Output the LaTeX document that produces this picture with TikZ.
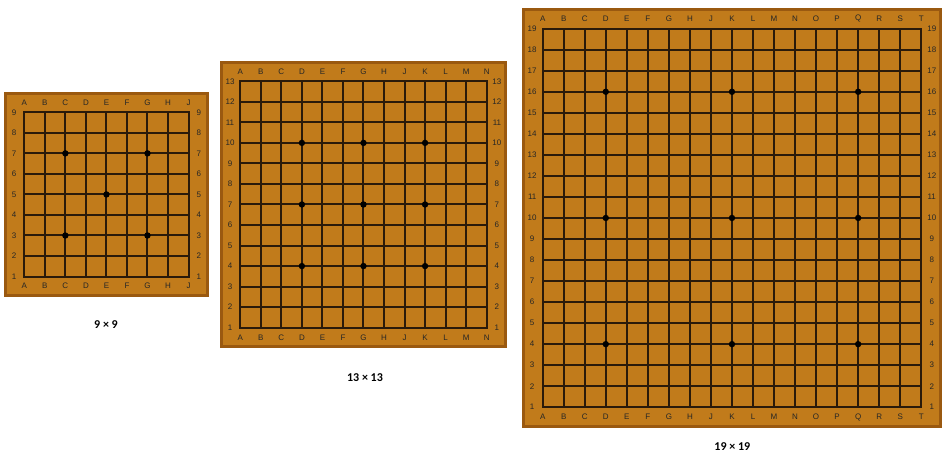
\documentclass[tikz,border=0pt]{standalone}
\usepackage{fontspec}
\setmainfont{Liberation Sans}
\newfontfamily\capfont{Carlito}
\definecolor{boardfill}{HTML}{C17B1B}
\definecolor{boardedge}{HTML}{9A5910}
\definecolor{gridline}{HTML}{2A1A0A}
\tikzset{
  lbl/.style={font=\fontsize{8}{8}\selectfont, text=black!85, inner sep=0pt},
  captext/.style={font=\capfont\bfseries\fontsize{12}{12}\selectfont, text=black, inner sep=0pt},
  gline/.style={draw=gridline, line width=2pt, line cap=rect},
  boardbox/.style={draw=boardedge, line width=3pt, fill=boardfill},
  starpt/.style={fill=black, draw=none}
}
% #1 size n, #2 left x (px), #3 top y (px), #4 spacing, #5 letters, #6 star points (col/row)
\newcommand\goboard[6]{%
  \begin{scope}[shift={(#2,{464-#3})}]
    \pgfmathsetmacro\gL{(#1-1)*#4}
    \pgfmathsetmacro\gm{#4-2}
    \pgfmathtruncatemacro\gnn{#1-1}
    \draw[boardbox] (-\gm,\gm) rectangle (\gL+\gm,-\gL-\gm);
    \foreach \i in {0,...,\gnn}{
      \draw[gline] (\i*#4,0) -- (\i*#4,-\gL);
      \draw[gline] (0,-\i*#4) -- (\gL,-\i*#4);
    }
    \foreach \c [count=\k from 0] in {#5}{
      \node[lbl] at (\k*#4, 0.47*#4) {\c};
      \node[lbl] at (\k*#4, -\gL-0.47*#4) {\c};
    }
    \foreach \r in {1,...,#1}{
      \node[lbl] at (-0.5*#4, {-(#1-\r)*#4}) {\r};
      \node[lbl] at (\gL+0.5*#4, {-(#1-\r)*#4}) {\r};
    }
    \foreach \a/\b in {#6}{
      \fill[starpt] ({(\a-1)*#4}, {-(#1-\b)*#4}) circle (3.2);
    }
  \end{scope}%
}
\begin{document}
\begin{tikzpicture}[x=1pt,y=1pt]
  \useasboundingbox (0,0) rectangle (948,464);
  \goboard{9}{24.3}{112.3}{20.53}{A,B,C,D,E,F,G,H,J}{3/3,7/3,5/5,3/7,7/7}
  \goboard{13}{240.3}{81.3}{20.53}{A,B,C,D,E,F,G,H,J,K,L,M,N}{4/4,7/4,10/4,4/7,7/7,10/7,4/10,7/10,10/10}
  \goboard{19}{542.7}{28.7}{21.03}{A,B,C,D,E,F,G,H,J,K,L,M,N,O,P,Q,R,S,T}{4/4,10/4,16/4,4/10,10/10,16/10,4/16,10/16,16/16}
  \node[captext] (c9) at (106,{464-324.3}) {9 × 9};
  \node[captext] (c13) at (365,{464-378}) {13 × 13};
  \node[captext] (c19) at (732.3,{464-446.3}) {19 × 19};
\end{tikzpicture}
\end{document}
